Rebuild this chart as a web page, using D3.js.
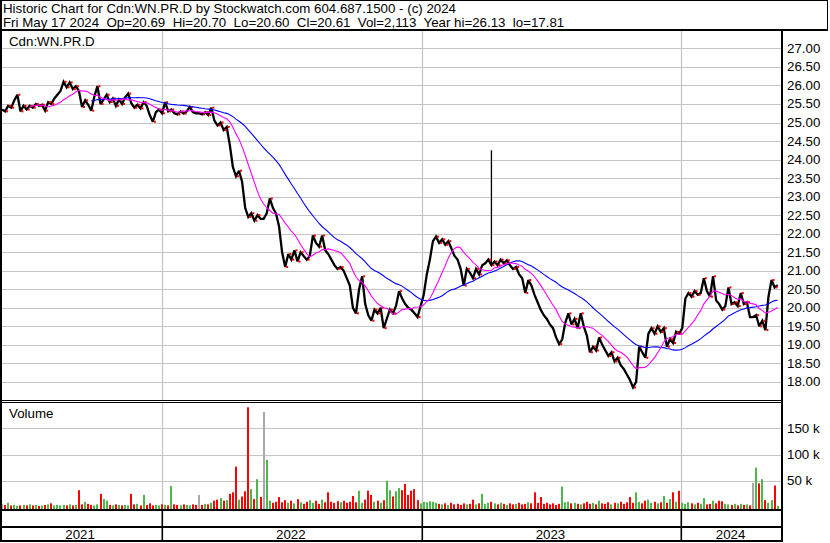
<!DOCTYPE html>
<html><head><meta charset="utf-8">
<script src="https://cdn.jsdelivr.net/npm/d3@7"></script>
<style>
body{margin:0;background:#fff}
svg{display:block}
text{font-family:Arial,"Liberation Sans",sans-serif;fill:#000;white-space:pre}
</style>
</head><body>
<svg id="chart" width="830" height="543"></svg>
<script>
// ---- data (one sample = 3 trading days, first bar mid-May 2021) ----
const closes = [
25.35,25.30,25.45,25.40,25.60,25.75,25.30,25.45,25.35,25.45,
25.40,25.50,25.45,25.48,25.32,25.55,25.50,25.65,25.75,25.85,
26.10,25.95,26.08,25.90,25.98,25.85,25.42,25.60,25.48,25.32,
25.70,25.98,25.50,25.62,25.75,25.55,25.65,25.45,25.62,25.50,
25.68,25.78,25.52,25.40,25.48,25.38,25.55,25.45,25.20,25.02,
25.28,25.35,25.25,25.55,25.30,25.35,25.25,25.22,25.30,25.24,
25.30,25.42,25.28,25.25,25.25,25.22,25.28,25.20,25.40,25.05,
24.92,25.00,24.80,24.88,24.40,23.80,23.55,23.70,23.40,22.70,
22.45,22.55,22.35,22.50,22.40,22.40,22.55,22.95,22.70,22.55,
22.20,21.50,21.10,21.45,21.30,21.55,21.25,21.50,21.40,21.30,
21.40,21.95,21.75,21.65,21.95,21.55,21.45,21.30,21.15,21.05,
21.10,21.00,20.80,20.60,20.00,19.85,20.50,20.85,20.10,19.80,
19.65,19.95,19.85,20.00,19.45,19.70,19.95,19.85,20.05,20.45,
20.25,20.10,20.00,19.95,19.85,19.75,20.05,20.35,20.90,21.30,
21.80,21.92,21.75,21.85,21.70,21.80,21.60,21.40,21.30,21.05,
20.60,21.05,20.95,20.80,21.05,20.90,21.15,21.20,21.30,21.15,
21.25,21.15,21.30,21.20,21.28,21.15,21.05,21.10,20.90,20.80,
20.40,20.75,20.60,20.35,20.15,19.95,19.80,19.70,19.55,19.45,
19.20,19.02,19.15,19.60,19.85,19.55,19.70,19.45,19.85,19.50,
19.25,18.80,18.95,18.85,19.20,19.00,18.85,18.70,18.80,18.55,
18.65,18.45,18.35,18.20,18.05,17.85,18.00,18.95,18.80,18.65,
19.30,19.45,19.30,19.50,19.35,19.45,18.95,19.15,19.05,19.35,
19.30,19.45,20.25,20.40,20.30,20.45,20.35,20.40,20.80,20.45,
20.30,20.85,20.20,20.10,19.95,20.05,20.55,20.10,20.15,20.05,
20.40,20.10,20.15,19.75,19.75,19.80,19.50,19.65,19.40,20.30,
20.75,20.55,20.61
];
const volumesK = [
6,4,8,3,4,2,3,4,3,5,
3,4,2,3,4,5,7,3,4,3,
4,3,5,3,4,32,5,10,6,4,
3,5,25,15,12,4,3,5,4,3,
4,3,25,5,6,3,23,4,7,3,
4,3,5,4,3,40,5,4,3,5,
4,3,5,4,23,4,6,5,8,12,
14,17,12,13,25,28,77,14,20,30,
190,34,15,53,19,181,90,12,8,10,
19,9,13,8,12,7,15,9,6,10,
13,8,12,6,14,9,28,10,8,11,
9,12,8,10,21,9,31,8,14,31,
23,10,12,8,13,50,32,20,30,36,
32,44,23,31,34,13,7,10,9,11,
10,8,6,5,7,4,8,5,6,4,
7,5,6,14,5,7,25,6,8,10,
7,5,8,6,4,7,5,6,8,5,
6,9,7,28,8,19,6,8,5,7,
4,6,39,9,10,7,8,6,5,7,
10,6,8,5,12,7,6,9,5,8,
7,10,6,9,19,8,28,10,7,12,
14,8,10,7,9,21,8,15,28,10,
31,8,6,9,7,5,8,6,17,5,
6,12,7,12,11,6,5,4,6,3,
6,4,5,3,46,75,45,53,13,8,
13,41,2
];
const spikeIndex = [159];
const spikeHigh = [24.25];
const daysPerSample = 3;
const lastDay = 756;
const yearLabels = ["2021", "2022", "2023", "2024"];
const yearStartDays = [156, 409, 662];
const priceTicks = [18,18.5,19,19.5,20,20.5,21,21.5,22,22.5,23,23.5,24,24.5,25,25.5,26,26.5,27];
const volumeTicks = [50, 100, 150];
const volumeTickLabels = ["50 k", "100 k", "150 k"];
const shortMA = 10, longMA = 30; // in samples
const header1 = "Historic Chart for Cdn:WN.PR.D by Stockwatch.com 604.687.1500 - (c) 2024";
const header2 = "Fri May 17 2024  Op=20.69  Hi=20.70  Lo=20.60  Cl=20.61  Vol=2,113  Year hi=26.13  lo=17.81";
const symbolLabel = "Cdn:WN.PR.D";
const volumeLabel = "Volume";

// ---- layout ----
const svg = d3.select("#chart");
const plotL = 2, plotR = 781;
const x = d3.scaleLinear().domain([0, lastDay]).range([2, 777.7]);
const y = d3.scaleLinear().domain([18, 27]).range([381.9, 48.4]);
const yv = d3.scaleLinear().domain([0, 150]).range([507, 428.3]);
const grid = "#c4c4c4";
const xs = i => x(i * daysPerSample);

svg.append("rect").attr("width", 830).attr("height", 543).attr("fill", "#fff");

// grid lines
const g = svg.append("g").attr("stroke", grid).attr("stroke-width", 1.2);
priceTicks.forEach(t => g.append("line").attr("x1", plotL).attr("x2", plotR)
  .attr("y1", Math.round(y(t)) + 0.5).attr("y2", Math.round(y(t)) + 0.5));
volumeTicks.forEach(t => g.append("line").attr("x1", plotL).attr("x2", plotR)
  .attr("y1", Math.round(yv(t)) + 0.5).attr("y2", Math.round(yv(t)) + 0.5));
yearStartDays.forEach(d => {
  const xx = Math.round(x(d)) + 0.5;
  g.append("line").attr("x1", xx).attr("x2", xx).attr("y1", 31).attr("y2", 400);
  g.append("line").attr("x1", xx).attr("x2", xx).attr("y1", 403).attr("y2", 509);
});

// price line
const priceLine = d3.line().x((d, i) => xs(i)).y(d => y(d));
svg.append("path").datum(closes).attr("d", priceLine)
  .attr("fill", "none").attr("stroke", "#000").attr("stroke-width", 2.3)
  .attr("stroke-linejoin", "miter").attr("stroke-miterlimit", 2.5);
// intraday spike
spikeIndex.forEach((si, k) => {
  svg.append("line").attr("x1", xs(si)).attr("x2", xs(si))
    .attr("y1", y(spikeHigh[k])).attr("y2", y(closes[si]))
    .attr("stroke", "#000").attr("stroke-width", 1.3);
});
// red close ticks visible at turning points
closes.forEach((c, i) => {
  if (i === 0 || i === closes.length - 1) return;
  const p = closes[i - 1], n = closes[i + 1];
  if ((c > p && c > n) || (c < p && c < n)) {
    svg.append("rect").attr("x", xs(i) + 1).attr("y", y(c) - 1)
      .attr("width", 2).attr("height", 2).attr("fill", "#ff0000");
  }
});

// moving averages
function sma(arr, n) {
  return arr.map((v, i) => i < n - 1 ? null : d3.mean(arr.slice(i - n + 1, i + 1)));
}
const maLine = d3.line().defined(d => d !== null).x((d, i) => xs(i)).y(d => y(d));
svg.append("path").datum(sma(closes, longMA)).attr("d", maLine)
  .attr("fill", "none").attr("stroke", "#0000ff").attr("stroke-width", 1.1);
svg.append("path").datum(sma(closes, shortMA)).attr("d", maLine)
  .attr("fill", "none").attr("stroke", "#ff00ff").attr("stroke-width", 1.1);

// volume bars
volumesK.forEach((v, i) => {
  const prev = i > 0 ? closes[i - 1] : closes[i];
  const col = closes[i] > prev ? "#4cb84c" : closes[i] < prev ? "#ff0000" : "#a8a8a8";
  svg.append("rect").attr("x", Math.round(xs(i)) - 1).attr("width", 2)
    .attr("y", yv(v)).attr("height", 509 - yv(v)).attr("fill", col);
});

// frame
const fr = svg.append("g").attr("fill", "#000");
[[0,0,828,1],[827,0,1,31],[0,29,828,2],[0,0,2,542],[781,29,2,513],
 [0,400,783,1],[0,402,783,1],[0,509,783,2],[0,526,783,2],[0,540,783,2]]
 .forEach(r => fr.append("rect").attr("x", r[0]).attr("y", r[1]).attr("width", r[2]).attr("height", r[3]));
yearStartDays.forEach(d => fr.append("rect").attr("x", Math.round(x(d)) - 0.5).attr("y", 509)
  .attr("width", 1.6).attr("height", 32));

// texts
svg.append("text").attr("x", 3).attr("y", 12.5).attr("font-size", 13.3).text(header1);
svg.append("text").attr("x", 3).attr("y", 27).attr("font-size", 13.3).text(header2);
svg.append("text").attr("x", 9).attr("y", 46).attr("font-size", 13.3).text(symbolLabel);
svg.append("text").attr("x", 9).attr("y", 418).attr("font-size", 13.3).text(volumeLabel);
priceTicks.forEach(t => svg.append("text").attr("x", 787).attr("y", y(t) + 4.5)
  .attr("font-size", 13.3).text(t.toFixed(2)));
volumeTicks.forEach((t, k) => svg.append("text").attr("x", 787).attr("y", yv(t) + 4.5)
  .attr("font-size", 13.3).text(volumeTickLabels[k]));
const bounds = [0].concat(yearStartDays.map(d => x(d)), [782]);
yearLabels.forEach((lab, k) => svg.append("text")
  .attr("x", (bounds[k] + bounds[k + 1]) / 2 - 1).attr("y", 539)
  .attr("text-anchor", "middle").attr("font-size", 13.3).text(lab));
</script>
</body></html>
